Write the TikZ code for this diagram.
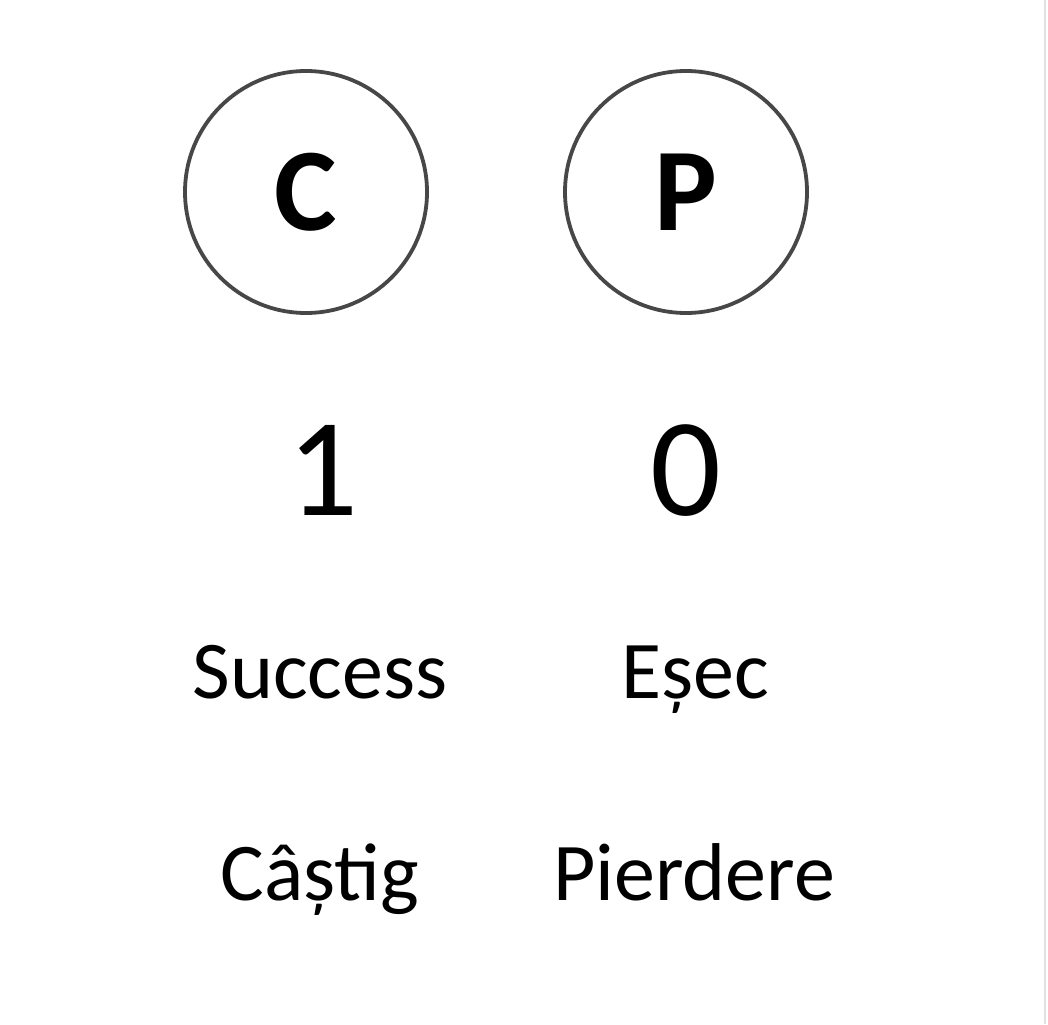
\documentclass[tikz,border=0pt]{standalone}
\usepackage{fontspec}
\setmainfont{Carlito}
\usetikzlibrary{positioning}

\begin{document}
\begin{tikzpicture}[x=1pt,y=-1pt,
		ring/.style={circle, draw=black!72, line width=3.8pt, minimum size=242pt, inner sep=0pt},
		letter/.style={font=\fontsize{118}{118}\selectfont\bfseries},
		digit/.style={anchor=base, font=\fontsize{140}{140}\selectfont},
		word/.style={anchor=base, font=\fontsize{82}{82}\selectfont}]
		\useasboundingbox (0,0) rectangle (1048,1024);
		\draw[black!12, line width=1.5pt] (1045,0) -- (1045,1024);
		\draw (306,192) node[ring] (cring) {}
		(686,192) node[ring] (pring) {}
		(cring.center) node[letter] (cl) {C}
		(pring.center) node[letter] (pl) {P}
		(323,515) node[digit] (one) {1}
		(686,515) node[digit] (zero) {0}
		(320,698) node[word] (succ) {Success}
		(695,698) node[word] (esec) {Eșec}
		(320,900) node[word] (cast) {Câștig}
		(694,900) node[word] (pierd) {Pierdere};
	\end{tikzpicture}
\end{document}
